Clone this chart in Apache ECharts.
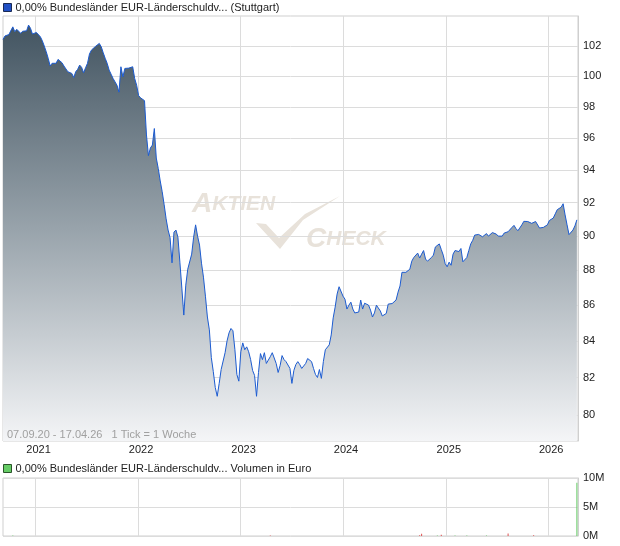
<!DOCTYPE html>
<html>
<head>
<meta charset="utf-8">
<script src="https://cdn.jsdelivr.net/npm/echarts@6/dist/echarts.min.js"></script>
<style>
  html, body { margin: 0; padding: 0; background: #fff; }
  #chart { width: 620px; height: 546px; }
</style>
</head>
<body>
<div id="chart"></div>
<script>
// weekly closes, first week = 07.09.20
const startDate = '2020-09-07'
const endDate = '2026-04-17'
const prices = [
  102.45, 102.68, 102.79, 102.78, 102.74, 103.30, 102.97, 103.13, 103.13, 102.86,
  103.00, 102.97, 103.03, 103.42, 103.20, 102.81, 102.90, 102.92, 102.81, 102.63,
  102.36, 102.00, 101.62, 101.18, 100.67, 100.85, 100.89, 100.85, 101.11, 100.98,
  100.89, 100.67, 100.73, 100.29, 100.40, 100.18, 99.91, 100.29, 100.45, 100.73,
  100.58, 100.22, 100.55, 100.85, 101.47, 101.73, 101.85, 101.97, 102.07, 102.18,
  101.95, 101.55, 101.18, 100.85, 100.40, 100.13, 99.85, 99.73, 99.40, 98.95,
  100.62, 99.95, 100.51, 100.51, 100.53, 100.57, 100.62, 99.85, 99.40, 98.73,
  98.58, 98.57, 98.40, 96.20, 94.90, 95.38, 95.56, 96.61, 94.75, 94.10,
  93.33, 92.67, 91.88, 91.03, 90.36, 89.91, 88.43, 90.24, 90.36, 89.94,
  88.47, 86.97, 85.44, 87.14, 88.06, 88.12, 88.94, 89.94, 90.67, 90.00,
  89.47, 88.41, 87.60, 86.51, 85.33, 84.61, 83.08, 82.32, 81.46, 80.99,
  81.68, 82.43, 82.43, 83.35, 84.00, 84.44, 84.69, 84.56, 83.51, 82.16,
  81.80, 83.40, 83.89, 83.51, 83.67, 83.40, 82.97, 82.38, 82.11, 80.99,
  82.27, 83.30, 82.97, 83.35, 82.76, 82.70, 83.13, 83.35, 83.35, 82.76,
  82.27, 82.65, 83.19, 82.97, 82.86, 82.76, 82.49, 81.68, 82.38, 82.70,
  82.86, 82.70, 82.49, 82.49, 82.76, 83.03, 83.03, 82.86, 82.49, 82.16,
  82.00, 82.43, 81.95, 82.86, 83.51, 83.62, 83.78, 84.33, 85.28, 85.89,
  86.63, 87.05, 86.96, 86.51, 86.34, 85.78, 86.00, 86.17, 85.78, 85.56,
  85.47, 85.61, 86.29, 85.78, 86.11, 86.17, 86.00, 85.72, 85.33, 85.56,
  86.00, 85.89, 85.67, 85.39, 85.28, 85.53, 86.06, 86.06, 86.09, 86.17,
  86.29, 86.74, 87.09, 87.88, 87.82, 87.88, 87.94, 88.06, 88.53, 88.74,
  88.71, 89.00, 88.71, 88.94, 89.15, 88.65, 88.53, 88.62, 88.74, 88.88,
  89.36, 89.47, 89.54, 89.21, 88.88, 88.38, 88.20, 88.47, 88.29, 88.94,
  89.15, 89.15, 89.09, 89.27, 88.49, 88.49, 88.74, 89.15, 89.54, 89.75,
  90.06, 90.15, 90.10, 90.06, 89.96, 90.06, 90.15, 90.00, 90.06, 90.21,
  90.24, 90.12, 90.00, 90.06, 90.00, 90.18, 90.26, 90.26, 90.27, 90.52,
  90.64, 90.45, 90.32, 90.36, 90.67, 90.88, 90.91, 90.87, 90.87, 90.76,
  90.85, 90.87, 90.76, 90.48, 90.44, 90.52, 90.58, 90.67, 90.93, 90.91,
  91.08, 91.33, 91.58, 91.67, 91.73, 91.94, 91.27, 90.67, 90.09, 90.09,
  90.36, 90.61, 90.97
]
const priceTicks = [80, 82, 84, 86, 88, 90, 92, 94, 96, 98, 100, 102]
const priceMin = 78.64
const priceMax = 104.04
const yearTicks = ['2021-01-01', '2022-01-01', '2023-01-01', '2024-01-01', '2025-01-01', '2026-01-01']

// volume (Euro), week index -> value
const volUpWeeks = [5, 221, 230, 236, 246, 292]
const volUpValues = [80000, 90000, 80000, 90000, 100000, 9200000]
const volDownWeeks = [136, 212, 213, 223, 257, 270]
const volDownValues = [90000, 150000, 400000, 200000, 450000, 150000]

const seriesName = '0,00% Bundesländer EUR-Länderschuldv... (Stuttgart)'
const volName = '0,00% Bundesländer EUR-Länderschuldv... Volumen in Euro'

const DAY = 86400000
const t0 = new Date(startDate + 'T00:00:00Z').getTime()
const t1 = new Date(endDate + 'T00:00:00Z').getTime()
const weekDate = i => t0 + i * 7 * DAY
const yearTs = yearTicks.map(d => new Date(d + 'T00:00:00Z').getTime())

// the price axis is logarithmic: plot ln(price) on a linear axis
const priceData = prices.map((v, i) => [weekDate(i), Math.log(v)])
const volUp = volUpWeeks.map((w, i) => [weekDate(w), volUpValues[i]])
const volDown = volDownWeeks.map((w, i) => [weekDate(w), volDownValues[i]])

const font = 'Liberation Sans, Arial, sans-serif'
const gridColor = '#dcdcdc'
const markColor = '#e8e2da'

const chart = echarts.init(document.getElementById('chart'))
chart.setOption({
  animation: false,
  textStyle: { fontFamily: font },
  legend: [
    {
      data: [seriesName],
      left: 3, top: 2, padding: 0,
      icon: 'rect', itemWidth: 8, itemHeight: 8,
      selectedMode: false,
      itemStyle: { borderColor: '#1a2a55', borderWidth: 1 },
      textStyle: { fontSize: 11, color: '#222', fontFamily: font, padding: [0, 0, 0, -1] }
    },
    {
      data: [volName],
      left: 3, top: 463, padding: 0,
      icon: 'rect', itemWidth: 8, itemHeight: 8,
      selectedMode: false,
      itemStyle: { color: '#66cc66', borderColor: '#2a552a', borderWidth: 1 },
      textStyle: { fontSize: 11, color: '#222', fontFamily: font, padding: [0, 0, 0, -1] }
    }
  ],
  grid: [
    { left: 3, right: 42, top: 16, height: 425, show: true, borderColor: '#cfcfcf', borderWidth: 1 },
    { left: 3, right: 42, top: 478, height: 58, show: true, borderColor: '#cfcfcf', borderWidth: 1 }
  ],
  xAxis: [
    {
      type: 'value', gridIndex: 0,
      min: t0, max: t1,
      axisLine: { show: false },
      axisTick: { show: false, customValues: yearTs },
      axisLabel: {
        customValues: yearTs,
        formatter: v => String(new Date(v).getUTCFullYear()),
        fontSize: 11, color: '#222', margin: 3, padding: [0, 0, 0, 6]
      },
      splitLine: { show: true, lineStyle: { color: gridColor } }
    },
    {
      type: 'value', gridIndex: 1,
      min: t0, max: t1,
      axisLine: { show: false },
      axisTick: { show: false, customValues: yearTs },
      axisLabel: { show: false },
      splitLine: { show: true, lineStyle: { color: gridColor } }
    }
  ],
  yAxis: [
    {
      type: 'value', gridIndex: 0, position: 'right',
      min: Math.log(priceMin), max: Math.log(priceMax),
      axisLine: { show: true, lineStyle: { color: '#cfcfcf' } },
      axisTick: { show: false, customValues: priceTicks.map(v => Math.log(v)) },
      axisLabel: {
        customValues: priceTicks.map(v => Math.log(v)),
        formatter: v => String(Math.round(Math.exp(v))),
        fontSize: 11, color: '#222', margin: 5
      },
      splitLine: { show: true, lineStyle: { color: gridColor } }
    },
    {
      type: 'value', gridIndex: 1, position: 'right',
      min: 0, max: 10000000, interval: 5000000,
      axisLine: { show: true, lineStyle: { color: '#cfcfcf' } },
      axisTick: { show: false },
      axisLabel: {
        formatter: v => (v / 1000000) + 'M',
        fontSize: 11, color: '#222', margin: 5
      },
      splitLine: { show: true, lineStyle: { color: gridColor } }
    }
  ],
  graphic: [
    {
      type: 'text', left: 7, top: 429, z: 10,
      style: { text: '07.09.20 - 17.04.26   1 Tick = 1 Woche', fill: '#a0a0a0', font: '11px ' + font }
    },
    // watermark
    {
      type: 'text', left: 192, top: 190, z: 0,
      style: {
        text: '{a|A}{b|KTIEN}',
        rich: {
          a: { font: 'italic bold 28px ' + font, fill: markColor },
          b: { font: 'italic bold 21px ' + font, fill: markColor }
        }
      }
    },
    {
      type: 'text', left: 306, top: 225, z: 0,
      style: {
        text: '{a|C}{b|HECK}',
        rich: {
          a: { font: 'italic bold 28px ' + font, fill: markColor },
          b: { font: 'italic bold 21px ' + font, fill: markColor }
        }
      }
    },
    {
      type: 'polygon', z: 0,
      shape: { points: [[256, 223], [266, 224], [279, 238], [305, 214], [340, 196], [303, 220], [280, 249]] },
      style: { fill: markColor }
    }
  ],
  series: [
    {
      name: seriesName,
      type: 'line',
      xAxisIndex: 0, yAxisIndex: 0,
      data: priceData,
      showSymbol: false,
      lineStyle: { color: '#1c5bd0', width: 1 },
      itemStyle: { color: '#2150c4' },
      areaStyle: {
        origin: 'start',
        opacity: 1,
        color: new echarts.graphic.LinearGradient(0, 16, 0, 441, [
          { offset: 0, color: '#3f515e' },
          { offset: 0.5, color: '#98a3ab' },
          { offset: 1, color: '#f4f5f7' }
        ], true)
      },
      z: 3
    },
    {
      name: volName,
      type: 'bar',
      xAxisIndex: 1, yAxisIndex: 1,
      data: volUp,
      barWidth: 1,
      itemStyle: { color: '#66cc66' },
      z: 3
    },
    {
      name: 'down',
      type: 'bar',
      xAxisIndex: 1, yAxisIndex: 1,
      data: volDown,
      barWidth: 1,
      barGap: '-100%',
      itemStyle: { color: '#e05050' },
      z: 3
    }
  ]
})
</script>
</body>
</html>
